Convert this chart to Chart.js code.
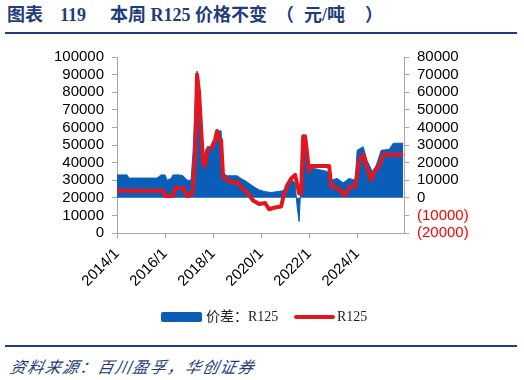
<!DOCTYPE html>
<html>
<head>
<meta charset="utf-8">
<script src="https://cdn.jsdelivr.net/npm/chart.js@4/dist/chart.umd.min.js"></script>
<style>
  html, body { margin: 0; padding: 0; background: #fff; }
  #wrap { position: relative; width: 524px; height: 380px; overflow: hidden; background: #fff; }
  .t { position: absolute; top: 4px; font-family: "Liberation Serif", "Noto Sans CJK SC", serif; font-weight: bold; font-size: 18px; color: #1F3D7A; white-space: nowrap; line-height: 22px; }
  .rule { position: absolute; left: 5px; width: 512px; height: 2px; background: #1F3D7A; }
  #cv { position: absolute; left: 0; top: 40px; width: 524px; height: 270px; }
  .leg { position: absolute; top: 309px; font-family: "Liberation Serif", "Noto Sans CJK SC", serif; font-size: 14px; color: #222; white-space: nowrap; line-height: 16px; }
  .foot { position: absolute; left: 8px; top: 354px; font-family: "Noto Sans CJK SC", sans-serif; font-style: italic; font-size: 16px; letter-spacing: 1.5px; color: #1F3D7A; white-space: nowrap; transform: skewX(-12deg); transform-origin: left bottom; }
</style>
</head>
<body>
<div id="wrap">
  <div class="t" style="left:7px">图表</div>
  <div class="t" style="left:60px">119</div>
  <div class="t" style="left:110px">本周 R125 价格不变</div>
  <div class="t" style="left:276px">（</div>
  <div class="t" style="left:304px">元/吨</div>
  <div class="t" style="left:365px">）</div>
  <div class="rule" style="top:32px"></div>
  <canvas id="cv" width="524" height="270"></canvas>
  <div style="position:absolute;left:161px;top:312px;width:41px;height:10px;background:#0A5EB8;border-radius:2px"></div>
  <div class="leg" style="left:206px">价差：R125</div>
  <div style="position:absolute;left:294px;top:315px;width:41px;height:4px;background:#E3161F;border-radius:2px"></div>
  <div class="leg" style="left:337px">R125</div>
  <div class="rule" style="top:345px"></div>
  <div class="foot">资料来源：百川盈孚，华创证券</div>
</div>
<script>
// R125 price (left axis, 元/吨)
const redDates = ["2014-01","2015-12","2016-01","2016-05","2016-06","2016-10","2016-12","2017-02","2017-03","2017-04","2017-05","2017-06","2017-07","2017-08","2017-09","2017-10","2017-12","2018-02","2018-03","2018-04","2018-05","2018-06","2018-08","2018-10","2019-01","2019-03","2019-05","2019-07","2019-09","2019-12","2020-03","2020-05","2020-08","2020-11","2020-12","2021-02","2021-04","2021-06","2021-08","2021-09","2021-10","2021-11","2022-01","2022-02","2022-11","2022-12","2023-03","2023-07","2023-09","2023-12","2024-02","2024-04","2024-06","2024-08","2024-10","2024-12","2025-02","2025-12"];
const redValues = [24000,24000,21000,21000,25500,25500,21000,21500,26000,45000,90000,80000,60000,40000,38000,47000,48000,53000,58000,53000,53000,32000,30000,29000,29000,26000,24000,21500,18500,16500,17000,13500,14500,15000,20000,27000,31000,33000,22500,22500,55000,55000,35000,38000,38000,26500,25500,21500,26000,26500,41000,44500,37000,30000,36000,38000,44500,44500];
// 价差 R125 (right axis, 元/吨)
const blueDates = ["2014-01","2014-06","2014-07","2015-09","2015-11","2016-01","2016-02","2016-04","2016-05","2016-08","2016-10","2016-12","2017-02","2017-03","2017-04","2017-05","2017-06","2017-07","2017-08","2017-09","2017-10","2017-12","2018-02","2018-03","2018-05","2018-06","2018-08","2018-10","2019-01","2019-03","2019-06","2019-09","2019-12","2020-03","2020-06","2020-09","2020-12","2021-02","2021-04","2021-06","2021-07","2021-08","2021-09","2021-10","2021-11","2021-12","2022-02","2022-06","2022-10","2022-12","2023-03","2023-06","2023-09","2023-12","2024-01","2024-04","2024-06","2024-09","2024-11","2025-01","2025-05","2025-07","2025-12"];
const blueValues = [13000,13000,11200,11200,13000,13000,10000,11000,13000,13000,12500,10000,10000,26000,50000,72000,62000,40000,19000,20000,29000,29000,30000,38000,38000,14000,12500,12500,12500,11000,9000,6500,4500,3500,3000,3500,4000,6500,11000,8000,-5000,-13500,10000,30000,35000,20000,17000,16000,15000,10000,11000,8500,11000,10000,27000,29000,21000,14000,20000,27000,27500,31000,31000];
const xTickYears = [2014, 2016, 2018, 2020, 2022, 2024];
const leftTicks = { min: 0, max: 100000, step: 10000 };
const rightTicks = { min: -20000, max: 80000, step: 10000 };

const toYear = s => { const [y, m] = s.split("-").map(Number); return y + (m - 1) / 12; };
const redData = redDates.map((d, i) => ({ x: toYear(d), y: redValues[i] }));
const blueData = blueDates.map((d, i) => ({ x: toYear(d), y: blueValues[i] }));

const tickFont = { family: "'Liberation Sans', Arial, sans-serif", size: 15 };
const axisGrey = '#A6A6A6';

new Chart(document.getElementById('cv'), {
  type: 'line',
  data: {
    datasets: [
      { label: 'R125', data: redData, yAxisID: 'y', borderColor: '#E3161F', borderWidth: 4, pointRadius: 0, fill: false, tension: 0, order: 0, borderJoinStyle: 'round' },
      { label: '价差：R125', data: blueData, yAxisID: 'y2', borderColor: '#0A5EB8', backgroundColor: '#0A5EB8', borderWidth: 1, pointRadius: 0, fill: 'origin', tension: 0, order: 1 }
    ]
  },
  options: {
    responsive: false,
    animation: false,
    layout: { padding: { top: 17, left: 0, right: 0, bottom: 0 } },
    plugins: { legend: { display: false }, tooltip: { enabled: false } },
    scales: {
      x: {
        type: 'linear', min: 2014, max: 2025.95,
        afterBuildTicks: s => { s.ticks = xTickYears.map(v => ({ value: v })); },
        afterFit: s => { s.height = 77; },
        ticks: { autoSkip: false, maxRotation: 45, minRotation: 45, color: '#000', font: tickFont, padding: 7, callback: v => v + '/1' },
        grid: { display: true, drawOnChartArea: false, drawTicks: true, tickLength: 5, color: axisGrey },
        border: { color: axisGrey, width: 1 }
      },
      y: {
        position: 'left', min: leftTicks.min, max: leftTicks.max,
        afterFit: s => { s.width = 117; },
        ticks: { stepSize: leftTicks.step, autoSkip: false, color: '#000', font: tickFont, padding: 8, callback: v => String(v) },
        grid: { display: true, drawOnChartArea: false, tickLength: 5, color: axisGrey },
        border: { color: axisGrey, width: 1 }
      },
      y2: {
        position: 'right', min: rightTicks.min, max: rightTicks.max,
        afterFit: s => { s.width = 120; },
        ticks: {
          stepSize: rightTicks.step, autoSkip: false, font: tickFont, padding: 8,
          color: c => (c.tick && c.tick.value < 0) ? '#FF0000' : '#000',
          callback: v => v < 0 ? '(' + (-v) + ')' : String(v)
        },
        grid: { display: true, drawOnChartArea: false, tickLength: 5, color: axisGrey },
        border: { color: axisGrey, width: 1 }
      }
    }
  }
});
</script>
</body>
</html>
